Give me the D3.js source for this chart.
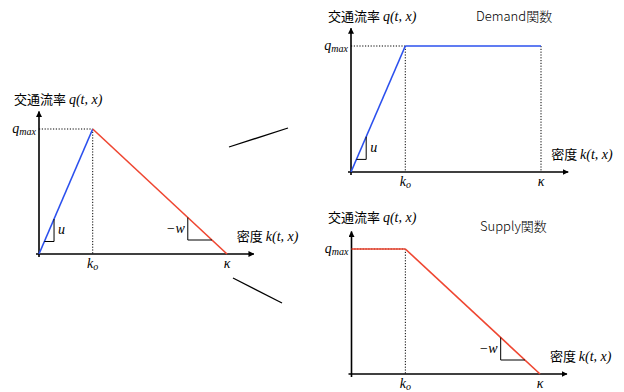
<!DOCTYPE html>
<html>
<head>
<meta charset="utf-8">
<script src="https://cdn.jsdelivr.net/npm/d3@7"></script>
<style>
  body { margin: 0; background: #fff; }
  svg { display: block; }
</style>
</head>
<body>
<div id="chart"></div>
<script>
// fundamental diagram values (abstract units)
const kO = 1;          // critical density k_o
const kappa = 3.5;     // jam density κ
const qMax = 1;        // capacity q_max
const kAxisEnd = 4.0;  // where the density arrow ends
const qAxisEnd = 1.14; // where the flow arrow ends

const triangleFD = [[0, 0], [kO, qMax], [kappa, 0]];
const demandFD = [[0, 0], [kO, qMax], [kappa, qMax]];
const supplyFD = [[0, qMax], [kO, qMax], [kappa, 0]];

const uMark = [0.1, 0.28];   // slope marker on free-flow branch
const wMark = [2.77, 3.22];  // slope marker on congested branch

const width = 624;
const height = 392;
const blue = '#2b50ee';
const red = '#ef4631';
const serif = "'Liberation Serif', 'DejaVu Serif', serif";
const jpFont = "'Noto Sans CJK JP', sans-serif";

const panels = [
  { x: [39, 227], y: [254, 129], title: null,
    data: triangleFD, u: true, w: true, kappaDots: false, qLabelX: 14, qLabelY: 104 },
  { x: [351, 541], y: [172, 46], title: 'Demand関数', titleX: 476, titleY: 21,
    data: demandFD, u: true, w: false, kappaDots: true, color: blue, qLabelX: 328, qLabelY: 21 },
  { x: [351.5, 540], y: [374, 249], title: 'Supply関数', titleX: 480, titleY: 231,
    data: supplyFD, u: false, w: true, kappaDots: false, color: red, qLabelX: 328, qLabelY: 222 },
];

const svg = d3.select('#chart')
  .append('svg')
  .attr('width', width)
  .attr('height', height);

svg.append('defs').append('marker')
  .attr('id', 'arrow')
  .attr('viewBox', '0 0 10 10')
  .attr('refX', 9)
  .attr('refY', 5)
  .attr('markerWidth', 6)
  .attr('markerHeight', 6)
  .attr('markerUnits', 'userSpaceOnUse')
  .attr('orient', 'auto')
  .append('path')
  .attr('d', 'M0,0 L10,5 L0,10 Z')
  .attr('fill', '#000');

function mathLabel(g, x, y, anchor, base, sub) {
  const t = g.append('text')
    .attr('font-family', serif)
    .attr('font-style', 'italic')
    .attr('x', x)
    .attr('y', y)
    .attr('text-anchor', anchor)
    .attr('font-size', 14);
  t.append('tspan').text(base);
  if (sub) {
    t.append('tspan').attr('font-size', 10).attr('dy', 2).text(sub);
  }
  return t;
}

function axisTitle(g, x, y, jp, math) {
  const t = g.append('text')
    .attr('x', x)
    .attr('y', y)
    .attr('font-size', 13);
  t.append('tspan').attr('font-family', jpFont).text(jp + ' ');
  t.append('tspan')
    .attr('font-family', serif)
    .attr('font-style', 'italic')
    .attr('font-size', 14)
    .text(math);
}

panels.forEach((p) => {
  const x = d3.scaleLinear().domain([0, kappa]).range(p.x);
  const y = d3.scaleLinear().domain([0, qMax]).range(p.y);
  const g = svg.append('g');

  // axes with arrows
  g.append('line')
    .attr('x1', x(0) - 3).attr('x2', x(kAxisEnd))
    .attr('y1', y(0)).attr('y2', y(0))
    .attr('stroke', '#000').attr('stroke-width', 1.6)
    .attr('marker-end', 'url(#arrow)');
  g.append('line')
    .attr('x1', x(0)).attr('x2', x(0))
    .attr('y1', y(0) + 3).attr('y2', y(qAxisEnd))
    .attr('stroke', '#000').attr('stroke-width', 1.6)
    .attr('marker-end', 'url(#arrow)');

  // dotted guides
  const guides = [
    [[0, qMax], [kO, qMax]],
    [[kO, qMax], [kO, 0]],
  ];
  if (p.kappaDots) guides.push([[kappa, qMax], [kappa, 0]]);
  g.selectAll('.guide')
    .data(guides)
    .join('line')
    .attr('x1', (d) => x(d[0][0])).attr('y1', (d) => y(d[0][1]))
    .attr('x2', (d) => x(d[1][0])).attr('y2', (d) => y(d[1][1]))
    .attr('stroke', '#000')
    .attr('stroke-width', 1)
    .attr('stroke-dasharray', '1.2,1.6');

  // curve segments
  const segs = d3.pairs(p.data);
  g.selectAll('.seg')
    .data(segs)
    .join('line')
    .attr('x1', (d) => x(d[0][0])).attr('y1', (d) => y(d[0][1]))
    .attr('x2', (d) => x(d[1][0])).attr('y2', (d) => y(d[1][1]))
    .attr('stroke', (d, i) => p.color || (i === 0 ? blue : red))
    .attr('stroke-width', 1.6);

  // slope triangles
  const tri = d3.line().x((d) => x(d[0])).y((d) => y(d[1]));
  if (p.u) {
    const q0 = qMax * uMark[0] / kO;
    const q1 = qMax * uMark[1] / kO;
    g.append('path')
      .attr('d', tri([[uMark[0], q0], [uMark[1], q0], [uMark[1], q1]]))
      .attr('fill', 'none').attr('stroke', '#000').attr('stroke-width', 1);
    mathLabel(g, x(uMark[1]) + 4, y((q0 + q1) / 2) + 4, 'start', 'u');
  }
  if (p.w) {
    const slope = qMax / (kappa - kO);
    const q0 = slope * (kappa - wMark[0]);
    const q1 = slope * (kappa - wMark[1]);
    g.append('path')
      .attr('d', tri([[wMark[0], q0], [wMark[0], q1], [wMark[1], q1]]))
      .attr('fill', 'none').attr('stroke', '#000').attr('stroke-width', 1);
    mathLabel(g, x(wMark[0]) - 3, y((q0 + q1) / 2) + 4, 'end', '−w');
  }

  // tick labels
  mathLabel(g, x(0) - 3, y(qMax) + 4, 'end', 'q', 'max');
  mathLabel(g, x(kO), y(0) + 14, 'middle', 'k', 'o');
  mathLabel(g, x(kappa), y(0) + 14, 'middle', 'κ');

  // axis titles
  axisTitle(g, p.qLabelX, p.qLabelY, '交通流率', 'q(t, x)');
  axisTitle(g, x(kAxisEnd) - 17, y(0) - 13, '密度', 'k(t, x)');

  if (p.title) {
    g.append('text')
      .attr('x', p.titleX)
      .attr('y', p.titleY)
      .attr('font-family', jpFont)
      .attr('font-weight', 300)
      .attr('font-size', 13)
      .text(p.title);
  }
});

// connector strokes between the panels
const connectors = [
  [[229, 147], [288, 128]],
  [[233, 278], [282, 303]],
];
svg.selectAll('.conn')
  .data(connectors)
  .join('line')
  .attr('x1', (d) => d[0][0]).attr('y1', (d) => d[0][1])
  .attr('x2', (d) => d[1][0]).attr('y2', (d) => d[1][1])
  .attr('stroke', '#000')
  .attr('stroke-width', 1.3);
</script>
</body>
</html>
